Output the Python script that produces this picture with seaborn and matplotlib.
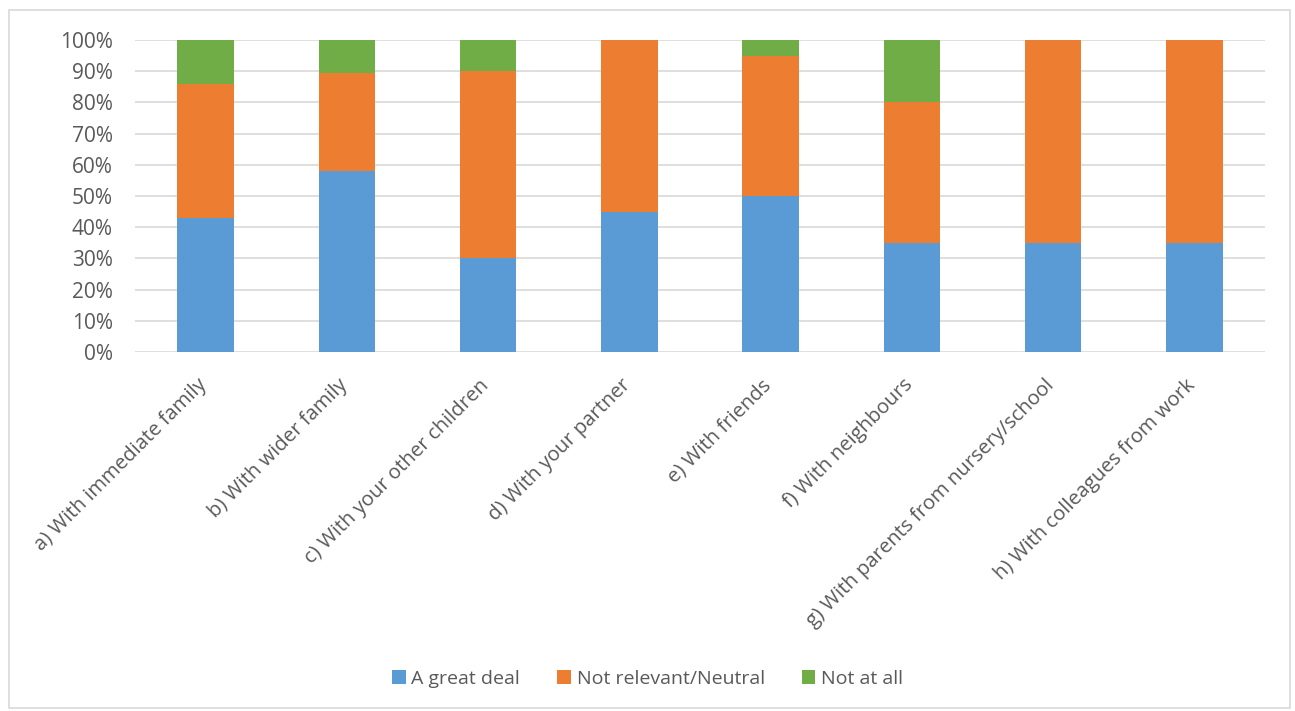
import matplotlib
matplotlib.use("Agg")
import matplotlib.pyplot as plt
from matplotlib.patches import Rectangle, Patch
from matplotlib.ticker import PercentFormatter
from matplotlib.transforms import ScaledTranslation
import seaborn as sns
import pandas as pd

categories = [
    "a) With immediate family",
    "b) With wider family",
    "c) With your other children",
    "d) With your partner",
    "e) With friends",
    "f) With neighbours",
    "g) With parents from nursery/school",
    "h) With colleagues from work",
]
great_deal = [42.9, 57.9, 30.0, 45.0, 50.0, 35.0, 35.0, 35.0]
neutral = [42.9, 31.6, 60.0, 55.0, 45.0, 45.0, 65.0, 65.0]
not_at_all = [14.2, 10.5, 10.0, 0.0, 5.0, 20.0, 0.0, 0.0]
series_names = ["A great deal", "Not relevant/Neutral", "Not at all"]
series_colors = ["#5B9BD5", "#ED7D31", "#70AD47"]
y_ticks = list(range(0, 101, 10))

sns.set_theme(style="white")
plt.rcParams["font.family"] = ["Open Sans", "DejaVu Sans"]
text_color = "#595959"
grid_color = "#D9D9D9"

df = pd.DataFrame({
    "category": categories,
    series_names[0]: great_deal,
    series_names[1]: neutral,
    series_names[2]: not_at_all,
})
# cumulative tops of each stacked segment
df["top0"] = df[series_names[0]]
df["top1"] = df["top0"] + df[series_names[1]]
df["top2"] = df["top1"] + df[series_names[2]]

fig = plt.figure(figsize=(12.95, 7.11), dpi=100)
ax = fig.add_axes([135 / 1295, 1 - 352 / 711, 1130 / 1295, 312 / 711])

# draw from the tallest cumulative layer down so lower segments sit on top
for col, color in zip(["top2", "top1", "top0"], series_colors[::-1]):
    sns.barplot(data=df, x="category", y=col, order=categories, color=color,
                width=0.4, saturation=1, linewidth=0, ax=ax, zorder=3)

ax.set_xlim(-0.5, len(categories) - 0.5)
ax.set_ylim(0, 100)
ax.set_yticks(y_ticks)
ax.yaxis.set_major_formatter(PercentFormatter(100, decimals=0))
ax.grid(axis="y", color=grid_color, linewidth=1.2, zorder=0)
ax.set_axisbelow(True)
for s in ax.spines.values():
    s.set_visible(False)
ax.set_xlabel("")
ax.set_ylabel("")
ax.tick_params(axis="y", length=0, pad=16, labelsize=15, labelcolor=text_color)
ax.tick_params(axis="x", length=0, pad=6, labelsize=14.6, labelcolor=text_color)
shift = ScaledTranslation(-0.02, -0.22, fig.dpi_scale_trans)
for lab in ax.get_xticklabels():
    lab.set_rotation(45)
    lab.set_ha("right")
    lab.set_va("center")
    lab.set_rotation_mode("anchor")
    lab.set_transform(lab.get_transform() + shift)

handles = [Patch(facecolor=c, edgecolor="none", label=n)
           for n, c in zip(series_names, series_colors)]
fig.legend(handles=handles, loc="center", bbox_to_anchor=(0.5, 1 - 679 / 711),
           ncol=3, frameon=False, fontsize=14, labelcolor=text_color,
           handlelength=0.7, handleheight=0.7, handletextpad=0.3,
           columnspacing=1.9)

fig.patches.append(Rectangle((9 / 1295, 3 / 711), 1281 / 1295, 698 / 711,
                             transform=fig.transFigure, fill=False,
                             edgecolor=grid_color, linewidth=1.2))

fig.savefig("out.png", dpi=100)
